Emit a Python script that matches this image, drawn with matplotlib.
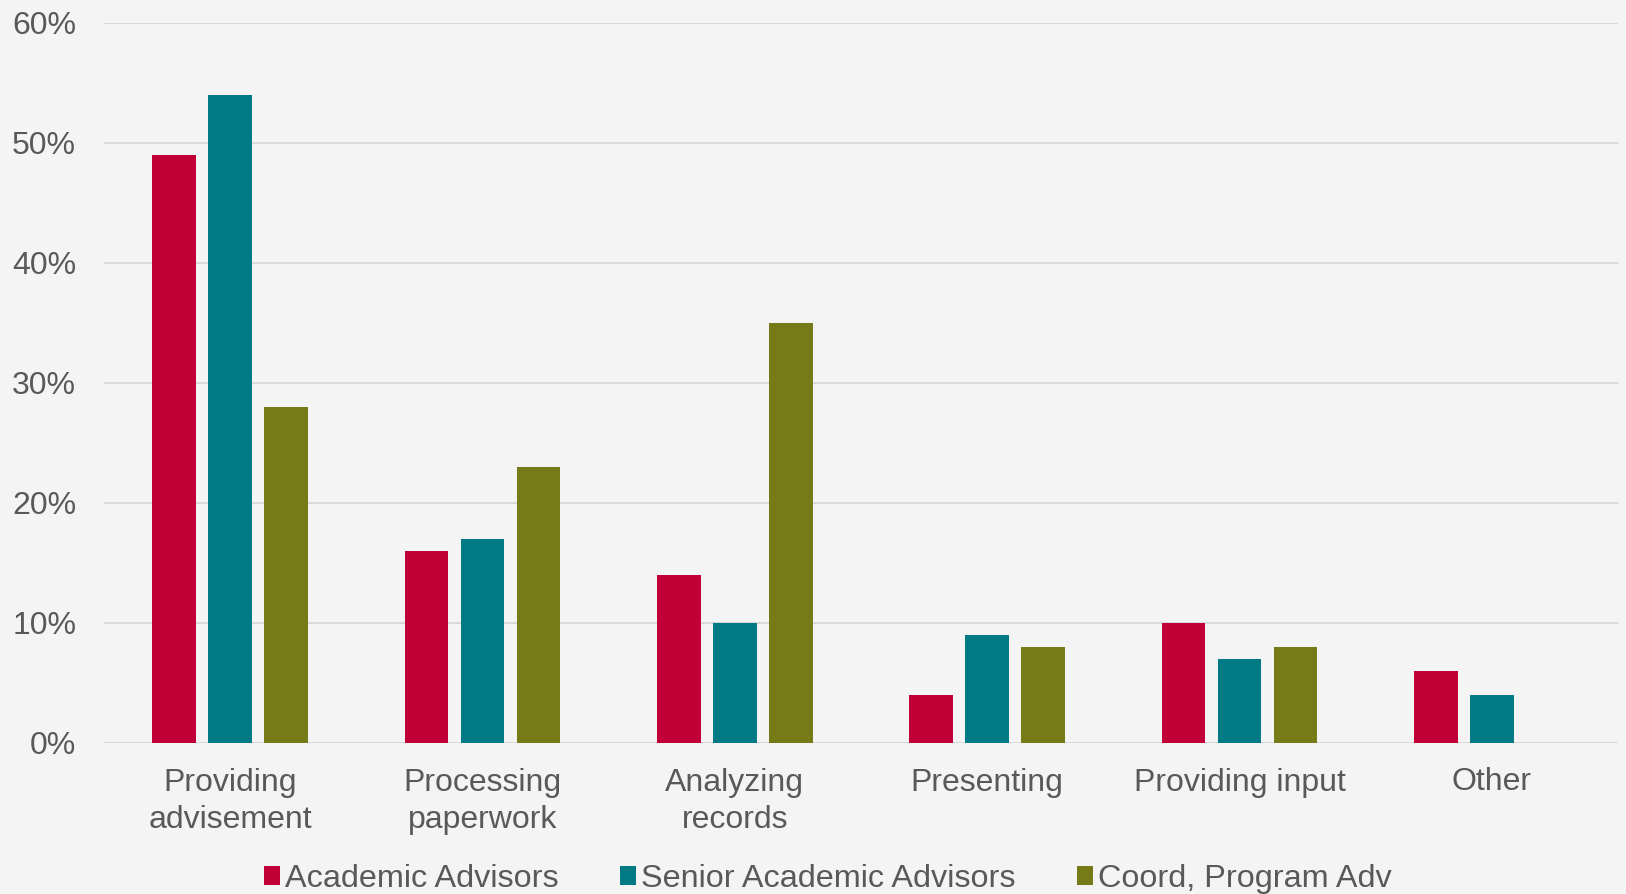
import matplotlib
matplotlib.use("Agg")
import matplotlib.pyplot as plt
import numpy as np
from matplotlib.ticker import FuncFormatter

categories = ["Providing\nadvisement", "Processing\npaperwork", "Analyzing\nrecords",
              "Presenting", "Providing input", "Other"]
series_names = ["Academic Advisors", "Senior Academic Advisors", "Coord, Program Adv"]
academic_advisors = [49, 16, 14, 4, 10, 6]
senior_academic_advisors = [54, 17, 10, 9, 7, 4]
coord_program_adv = [28, 23, 35, 8, 8, 0]
colors = ["#C10037", "#007A84", "#767B17"]
yticks = [0, 10, 20, 30, 40, 50, 60]

plt.rcParams['font.family'] = ['Liberation Sans', 'DejaVu Sans']

fig = plt.figure(figsize=(16.26, 8.94), dpi=100)
fig.patch.set_facecolor("#F4F4F4")
ax = fig.add_axes([104/1626, 1 - 742.5/894, (1618-104)/1626, (742.5-22.8)/894])
ax.set_facecolor("none")

x = np.arange(len(categories))
offset = 0.222
width = 0.173
for j, vals in enumerate([academic_advisors, senior_academic_advisors, coord_program_adv]):
    ax.bar(x + (j - 1) * offset, vals, width, color=colors[j], label=series_names[j], zorder=3)

ax.set_xlim(-0.5, len(categories) - 0.5)
ax.set_ylim(0, 60)
ax.set_yticks(yticks)
ax.yaxis.set_major_formatter(FuncFormatter(lambda v, p: f"{int(v)}%"))
ax.grid(axis="y", color="#D9D9D9", linewidth=1.4, zorder=0)
ax.set_axisbelow(True)
for s in ax.spines.values():
    s.set_visible(False)
ax.set_xticks(x)
ax.set_xticklabels(categories, linespacing=1.32)
ax.tick_params(axis="both", length=0, labelsize=23, colors="#595959")
ax.tick_params(axis="y", pad=20)
ax.tick_params(axis="x", pad=18)

leg = fig.legend(loc="center", bbox_to_anchor=(0.509, 0.017), ncol=3, frameon=False,
                 fontsize=23.3, handlelength=0.5, handleheight=0.5, handletextpad=0.15,
                 columnspacing=1.9, borderaxespad=0, borderpad=0)
for t in leg.get_texts():
    t.set_color("#595959")

fig.savefig("out.png", dpi=100, facecolor=fig.get_facecolor())
